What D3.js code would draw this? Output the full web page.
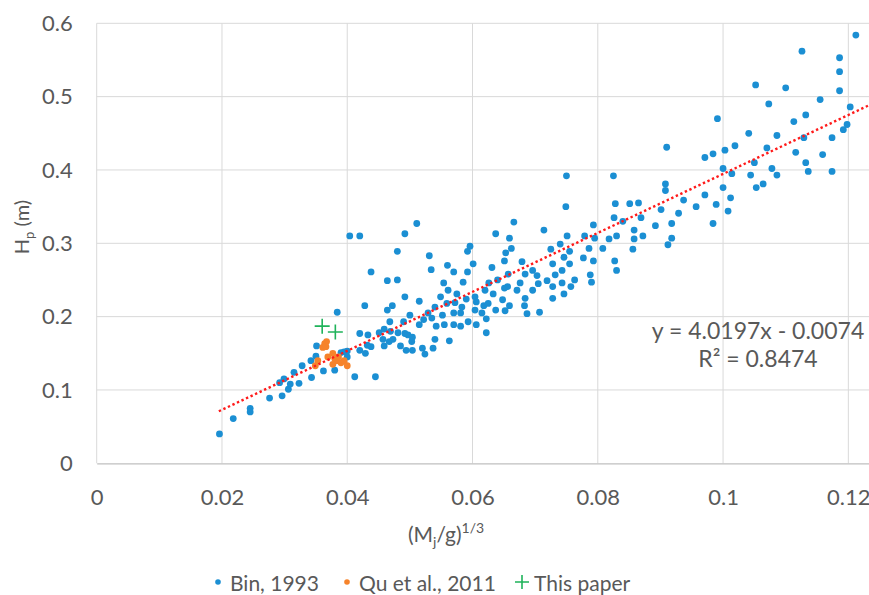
<!DOCTYPE html>
<html>
<head>
<meta charset="utf-8">
<script src="https://cdn.jsdelivr.net/npm/d3@7"></script>
<style>
  body { margin: 0; background: #fff; }
  text { font-family: Lato, "Open Sans", sans-serif; fill: #595959; }
</style>
</head>
<body>
<svg id="chart" width="869" height="595"></svg>
<script>
// Bin, 1993  [x, y]
var binData = [
  [0.0196,0.040],[0.0218,0.061],[0.0245,0.075],[0.0245,0.070],[0.0276,0.089],[0.0296,0.092],
  [0.0306,0.101],[0.0309,0.108],[0.0292,0.110],[0.0299,0.115],[0.0323,0.109],[0.0315,0.124],
  [0.0328,0.133],[0.0343,0.117],[0.0342,0.140],[0.0350,0.146],[0.0351,0.160],[0.0362,0.126],
  [0.0380,0.127],[0.0390,0.151],[0.0400,0.153],[0.0395,0.152],[0.0400,0.145],[0.0412,0.118],
  [0.0445,0.118],[0.0384,0.206],[0.0420,0.177],[0.0433,0.175],[0.0420,0.154],[0.0429,0.150],
  [0.0438,0.159],[0.0432,0.161],[0.0404,0.310],[0.0420,0.310],[0.0438,0.261],[0.0428,0.215],
  [0.0464,0.249],[0.0480,0.250],[0.0480,0.289],[0.0492,0.313],[0.0511,0.327],[0.0464,0.209],
  [0.0472,0.215],[0.0492,0.227],[0.0468,0.193],[0.0451,0.178],[0.0459,0.183],[0.0457,0.169],
  [0.0459,0.160],[0.0467,0.166],[0.0473,0.169],[0.0481,0.178],[0.0469,0.180],[0.0485,0.160],
  [0.0490,0.193],[0.0492,0.177],[0.0497,0.175],[0.0494,0.154],[0.0504,0.172],[0.0503,0.166],
  [0.0504,0.154],[0.0500,0.202],[0.0515,0.189],[0.0515,0.221],[0.0520,0.157],[0.0524,0.149],
  [0.0522,0.196],[0.0529,0.205],[0.0535,0.198],[0.0537,0.157],[0.0540,0.169],[0.0542,0.187],
  [0.0540,0.213],[0.0549,0.227],[0.0531,0.283],[0.0534,0.264],[0.0560,0.270],[0.0554,0.246],
  [0.0561,0.236],[0.0570,0.261],[0.0575,0.231],[0.0585,0.247],[0.0592,0.261],[0.0596,0.296],
  [0.0592,0.289],[0.0601,0.272],[0.0637,0.313],[0.0631,0.267],[0.0552,0.202],[0.0559,0.218],
  [0.0570,0.205],[0.0572,0.219],[0.0581,0.205],[0.0583,0.213],[0.0590,0.224],[0.0604,0.227],
  [0.0606,0.220],[0.0604,0.209],[0.0615,0.205],[0.0622,0.197],[0.0606,0.189],[0.0593,0.193],
  [0.0581,0.187],[0.0570,0.189],[0.0563,0.167],[0.0555,0.189],[0.0622,0.178],[0.0618,0.215],
  [0.0625,0.218],[0.0633,0.231],[0.0637,0.209],[0.0620,0.236],[0.0626,0.246],[0.0640,0.250],
  [0.0750,0.392],[0.0825,0.392],[0.0749,0.350],[0.0666,0.329],[0.0659,0.307],[0.0714,0.318],
  [0.0751,0.310],[0.0662,0.293],[0.0653,0.287],[0.0651,0.276],[0.0679,0.275],[0.0725,0.292],
  [0.0740,0.299],[0.0755,0.289],[0.0746,0.281],[0.0728,0.272],[0.0755,0.272],[0.0743,0.263],
  [0.0732,0.257],[0.0719,0.249],[0.0728,0.241],[0.0743,0.246],[0.0757,0.241],[0.0763,0.250],
  [0.0746,0.231],[0.0728,0.225],[0.0777,0.280],[0.0793,0.325],[0.0779,0.310],[0.0795,0.307],
  [0.0786,0.293],[0.0793,0.276],[0.0788,0.257],[0.0790,0.247],[0.0808,0.293],[0.0818,0.306],
  [0.0830,0.310],[0.0826,0.335],[0.0828,0.354],[0.0840,0.330],[0.0851,0.354],[0.0865,0.355],
  [0.0869,0.335],[0.0858,0.318],[0.0858,0.306],[0.0872,0.310],[0.0856,0.292],[0.0827,0.276],
  [0.0830,0.263],[0.0696,0.263],[0.0703,0.256],[0.0684,0.258],[0.0676,0.246],[0.0705,0.245],
  [0.0696,0.236],[0.0671,0.236],[0.0657,0.258],[0.0656,0.241],[0.0651,0.239],[0.0648,0.223],
  [0.0659,0.215],[0.0652,0.208],[0.0684,0.225],[0.0683,0.215],[0.0687,0.204],[0.0707,0.206],
  [0.0912,0.298],[0.0918,0.307],[0.0918,0.327],[0.0929,0.341],[0.0937,0.359],[0.0957,0.350],
  [0.0892,0.324],[0.0901,0.346],[0.0908,0.381],[0.0908,0.372],[0.0910,0.431],[0.0971,0.417],
  [0.0984,0.422],[0.1003,0.427],[0.1019,0.433],[0.1070,0.430],[0.1000,0.402],[0.1014,0.395],
  [0.1050,0.410],[0.1044,0.393],[0.1078,0.402],[0.1086,0.393],[0.1064,0.381],[0.1053,0.376],
  [0.1000,0.376],[0.1012,0.362],[0.1008,0.344],[0.0989,0.353],[0.0971,0.366],[0.0984,0.327],
  [0.1212,0.584],[0.1126,0.562],[0.1186,0.553],[0.1186,0.534],[0.1186,0.508],[0.1052,0.516],
  [0.1100,0.512],[0.1155,0.496],[0.1073,0.490],[0.1203,0.486],[0.1198,0.462],[0.1192,0.455],
  [0.1113,0.466],[0.1132,0.475],[0.0991,0.470],[0.1041,0.450],[0.1086,0.447],[0.1129,0.444],
  [0.1174,0.444],[0.1116,0.424],[0.1159,0.421],[0.1132,0.410],[0.1136,0.398],[0.1174,0.398]
];

// Qu et al., 2011
var quData = [
  [0.0367,0.166],[0.0364,0.163],[0.0361,0.158],[0.0366,0.159],[0.0353,0.140],[0.0349,0.133],
  [0.0369,0.145],[0.0377,0.150],[0.0380,0.143],[0.0383,0.140],[0.0377,0.135],[0.0390,0.137],
  [0.0395,0.140],[0.0400,0.133],[0.0386,0.145]
];

// This paper
var paperData = [[0.0360,0.187],[0.0381,0.179]];

var xTicks = [0, 0.02, 0.04, 0.06, 0.08, 0.1, 0.12];
var yTicks = [0, 0.1, 0.2, 0.3, 0.4, 0.5, 0.6];
var trendSlope = 4.0197, trendIntercept = -0.0074;
var trendRange = [0.0195, 0.1234];
var trendLabels = ['y = 4.0197x - 0.0074', 'R² = 0.8474'];
var seriesNames = ['Bin, 1993', 'Qu et al., 2011', 'This paper'];
var seriesColors = ['#1b8fd3', '#f6832a', '#1fb35a'];

var svg = d3.select('#chart');
var margin = { left: 96.7, right: 0, top: 23.3, bottom: 131.7 };
var width = 869 - margin.left - margin.right;
var height = 595 - margin.top - margin.bottom;

var x = d3.scaleLinear().domain([0, 0.1233]).range([0, width]);
var y = d3.scaleLinear().domain([0, 0.6]).range([height, 0]);

var g = svg.append('g').attr('transform', 'translate(' + margin.left + ',' + margin.top + ')');

// gridlines
g.append('g').selectAll('line.hgrid')
  .data(yTicks.slice(1))
  .enter().append('line')
  .attr('x1', 0).attr('x2', width)
  .attr('y1', function (d) { return y(d); })
  .attr('y2', function (d) { return y(d); })
  .attr('stroke', '#d9d9d9').attr('stroke-width', 1);

g.append('g').selectAll('line.vgrid')
  .data(xTicks)
  .enter().append('line')
  .attr('y1', 0).attr('y2', height)
  .attr('x1', function (d) { return x(d); })
  .attr('x2', function (d) { return x(d); })
  .attr('stroke', '#d9d9d9').attr('stroke-width', 1);

// bottom axis
var xAxis = g.append('g')
  .attr('transform', 'translate(0,' + height + ')')
  .call(d3.axisBottom(x).tickValues(xTicks).tickSize(0).tickPadding(26).tickFormat(function (d) { return String(d); }));
xAxis.select('.domain').attr('stroke', '#bfbfbf').attr('stroke-width', 1.3);
xAxis.selectAll('text').style('font-size', '22px').attr('fill', '#595959');

var yAxis = g.append('g')
  .call(d3.axisLeft(y).tickValues(yTicks).tickSize(0).tickPadding(24).tickFormat(function (d) { return String(d); }));
yAxis.select('.domain').remove();
yAxis.selectAll('text').style('font-size', '22px').attr('fill', '#595959');

// trend line
var trendLine = d3.line()
  .x(function (d) { return x(d); })
  .y(function (d) { return y(trendSlope * d + trendIntercept); });

// points
g.append('g').selectAll('circle.bin')
  .data(binData)
  .enter().append('circle')
  .attr('cx', function (d) { return x(d[0]); })
  .attr('cy', function (d) { return y(d[1]); })
  .attr('r', 3.4)
  .attr('fill', seriesColors[0]);

g.append('g').selectAll('circle.qu')
  .data(quData)
  .enter().append('circle')
  .attr('cx', function (d) { return x(d[0]); })
  .attr('cy', function (d) { return y(d[1]); })
  .attr('r', 3.4)
  .attr('fill', seriesColors[1]);

var plus = function (sel, size) {
  sel.attr('d', function (d) {
    var cx = x(d[0]), cy = y(d[1]), h = size / 2;
    return 'M' + (cx - h) + ',' + cy + 'H' + (cx + h) + 'M' + cx + ',' + (cy - h) + 'V' + (cy + h);
  });
};

g.append('g').selectAll('path.paper')
  .data(paperData)
  .enter().append('path')
  .attr('stroke', seriesColors[2]).attr('stroke-width', 1.6).attr('fill', 'none')
  .call(plus, 15);

g.append('path')
  .datum(trendRange)
  .attr('d', trendLine)
  .attr('fill', 'none')
  .attr('stroke', '#ff1a1a')
  .attr('stroke-width', 2.4)
  .attr('stroke-dasharray', '2.4,2.6');

// regression label
g.append('g').selectAll('text.trend')
  .data(trendLabels)
  .enter().append('text')
  .attr('x', 758 - margin.left)
  .attr('y', function (d, i) { return 330 - margin.top + i * 28; })
  .attr('text-anchor', 'middle')
  .attr('dominant-baseline', 'central')
  .style('font-size', '23px')
  .text(function (d) { return d; });

// axis titles
var xTitle = svg.append('text')
  .attr('x', 446).attr('y', 542)
  .attr('text-anchor', 'middle')
  .style('font-size', '21px');
xTitle.append('tspan').text('(M');
xTitle.append('tspan').attr('dy', 5).style('font-size', '14px').text('j');
xTitle.append('tspan').attr('dy', -5).text('/g)');
xTitle.append('tspan').attr('dy', -9).style('font-size', '14px').text('1/3');

var yTitle = svg.append('text')
  .attr('transform', 'translate(29,227) rotate(-90)')
  .attr('text-anchor', 'middle')
  .style('font-size', '20px');
yTitle.append('tspan').text('H');
yTitle.append('tspan').attr('dy', 5).style('font-size', '13px').text('p');
yTitle.append('tspan').attr('dy', -5).text(' (m)');

// legend
var legendX = [218, 347, 522];
var legend = svg.append('g').selectAll('g.legend')
  .data(seriesNames)
  .enter().append('g')
  .attr('transform', function (d, i) { return 'translate(' + legendX[i] + ',582)'; });

legend.each(function (d, i) {
  var item = d3.select(this);
  if (i < 2) {
    item.append('circle').attr('r', 2.8).attr('fill', seriesColors[i]);
  } else {
    item.append('path').attr('d', 'M-7,0H7M0,-7V7')
      .attr('stroke', seriesColors[i]).attr('stroke-width', 1.6);
  }
  item.append('text')
    .attr('x', 12)
    .attr('dominant-baseline', 'central')
    .style('font-size', '21px')
    .text(d);
});
</script>
</body>
</html>
